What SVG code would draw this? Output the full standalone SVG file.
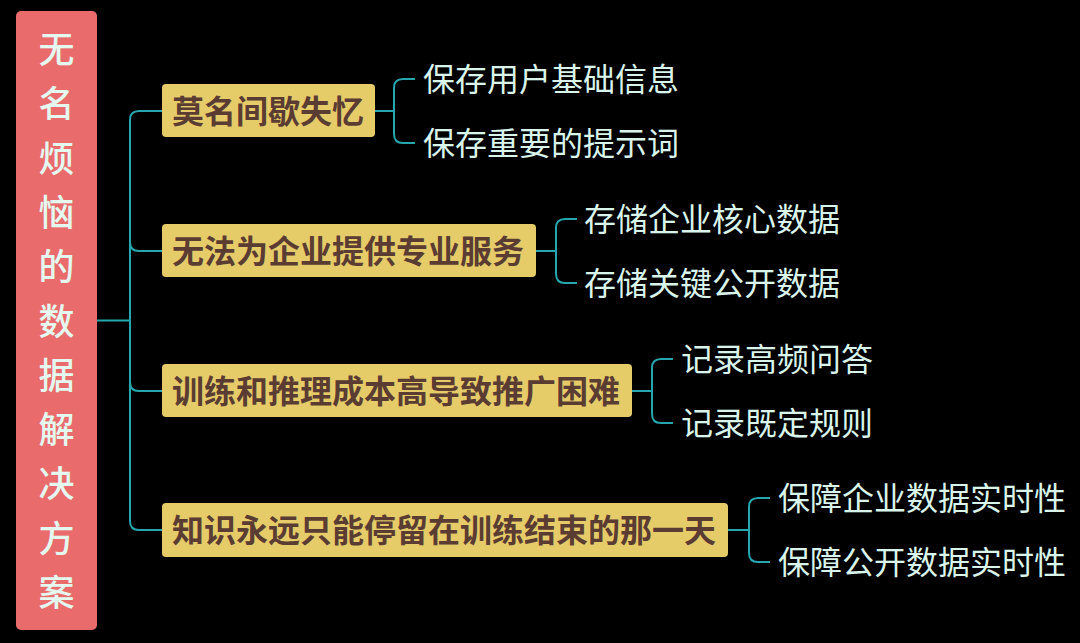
<svg xmlns="http://www.w3.org/2000/svg" width="1080" height="643" viewBox="0 0 1080 643">
<style>
.cjk{font-family:"Noto Sans CJK SC","Noto Sans",sans-serif}
.root-box{fill:#e96b6b}
.root-t{fill:#e4f8ef;font-size:36px;font-weight:500;text-anchor:middle;dominant-baseline:central}
.br-box{fill:#e6cc68}
.br-t{fill:#5b3c33;font-size:32px;font-weight:bold;dominant-baseline:central}
.leaf-t{fill:#d9f4ea;font-size:32px;dominant-baseline:central}
.conn{fill:none;stroke:#26a6ae;stroke-width:2}
</style>
<rect width="1080" height="643" fill="#000"/>
<g id="connectors">
<path class="conn" d="M97 320.5 H130"/>
<path class="conn" d="M162 111 H139 Q130 111 130 120 V521 Q130 530 139 530 H162"/>
<path class="conn" d="M130 242 Q130 251 139 251 H162"/>
<path class="conn" d="M130 382 Q130 391 139 391 H162"/>
<path class="conn" d="M375 111 H394 M415 79 H403 Q394 79 394 88 V134 Q394 143 403 143 H415"/>
<path class="conn" d="M536 251 H556 M577 219 H565 Q556 219 556 228 V274 Q556 283 565 283 H577"/>
<path class="conn" d="M632 391 H652 M673 359 H661 Q652 359 652 368 V414 Q652 423 661 423 H673"/>
<path class="conn" d="M728 530 H749 M770 498 H758 Q749 498 749 507 V553 Q749 562 758 562 H770"/>
</g>
<g id="root" class="cjk">
<rect class="root-box" x="16" y="11" width="81" height="619" rx="5"/>
<text class="root-t" x="56.5" y="47">无</text>
<text class="root-t" x="56.5" y="101.3">名</text>
<text class="root-t" x="56.5" y="155.6">烦</text>
<text class="root-t" x="56.5" y="209.9">恼</text>
<text class="root-t" x="56.5" y="264.2">的</text>
<text class="root-t" x="56.5" y="318.5">数</text>
<text class="root-t" x="56.5" y="372.8">据</text>
<text class="root-t" x="56.5" y="427.1">解</text>
<text class="root-t" x="56.5" y="481.4">决</text>
<text class="root-t" x="56.5" y="535.7">方</text>
<text class="root-t" x="56.5" y="590">案</text>
</g>
<g id="b1" class="cjk">
<rect class="br-box" x="162" y="84" width="213" height="53" rx="4"/>
<text class="br-t" x="172" y="109">莫名间歇失忆</text>
</g>
<g id="b2" class="cjk">
<rect class="br-box" x="162" y="224" width="374" height="53" rx="4"/>
<text class="br-t" x="172" y="249">无法为企业提供专业服务</text>
</g>
<g id="b3" class="cjk">
<rect class="br-box" x="162" y="364" width="470" height="53" rx="4"/>
<text class="br-t" x="172" y="389">训练和推理成本高导致推广困难</text>
</g>
<g id="b4" class="cjk">
<rect class="br-box" x="162" y="503" width="566" height="54" rx="4"/>
<text class="br-t" x="172" y="528">知识永远只能停留在训练结束的那一天</text>
</g>
<g id="l1a" class="cjk"><text class="leaf-t" x="423" y="77">保存用户基础信息</text></g>
<g id="l1b" class="cjk"><text class="leaf-t" x="423" y="141">保存重要的提示词</text></g>
<g id="l2a" class="cjk"><text class="leaf-t" x="584" y="217">存储企业核心数据</text></g>
<g id="l2b" class="cjk"><text class="leaf-t" x="584" y="281">存储关键公开数据</text></g>
<g id="l3a" class="cjk"><text class="leaf-t" x="681" y="357">记录高频问答</text></g>
<g id="l3b" class="cjk"><text class="leaf-t" x="681" y="421">记录既定规则</text></g>
<g id="l4a" class="cjk"><text class="leaf-t" x="778" y="496">保障企业数据实时性</text></g>
<g id="l4b" class="cjk"><text class="leaf-t" x="778" y="560">保障公开数据实时性</text></g>
</svg>
